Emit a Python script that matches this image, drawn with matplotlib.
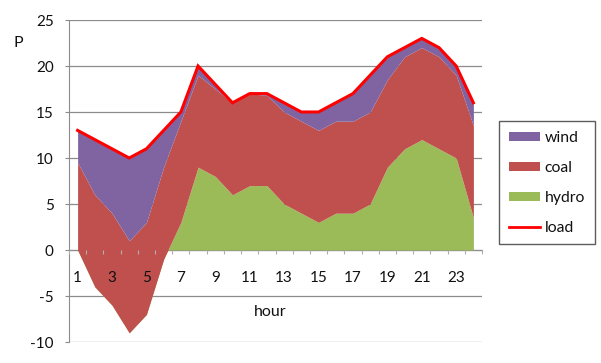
import matplotlib
matplotlib.use("Agg")
import matplotlib.pyplot as plt
from matplotlib.patches import Patch
from matplotlib.lines import Line2D
import numpy as np

hours = list(range(1, 25))
hydro = [0, -4, -6, -9, -7, -1, 3, 9, 8, 6, 7, 7, 5, 4, 3, 4, 4, 5, 9, 11, 12, 11, 10, 3.5]
coal = [9.5, 10, 10, 10, 10, 10, 11, 10, 9.5, 10, 10, 9.8, 10, 10, 10, 10, 10, 10, 9.5, 10, 10, 10, 9, 10]
wind = [3.5, 6, 7, 9, 8, 4, 1, 1, 0.5, 0, 0, 0.2, 1, 1, 2, 2, 3, 4, 2.5, 1, 1, 1, 1, 2.5]
load = [13, 12, 11, 10, 11, 13, 15, 20, 18, 16, 17, 17, 16, 15, 15, 16, 17, 19, 21, 22, 23, 22, 20, 16]
xtick_labels = ["1", "3", "5", "7", "9", "11", "13", "15", "17", "19", "21", "23"]
yticks = [-10, -5, 0, 5, 10, 15, 20, 25]

plt.rcParams['font.family'] = ['Lato', 'DejaVu Sans']
plt.rcParams['axes.unicode_minus'] = False

c_wind = '#8064A2'
c_coal = '#C0504D'
c_hydro = '#9BBB59'
c_load = '#FF0000'
grid_c = '#8C8C8C'
txt_c = '#111111'

fig = plt.figure(figsize=(6.01, 3.63), dpi=100)
ax = fig.add_axes([69/601, 1-342/363, (482-69)/601, (342-20)/363])

x = np.array(hours, dtype=float)
h = np.array(hydro)
c1 = h + np.array(coal)
c2 = c1 + np.array(wind)

ax.fill_between(x, 0, h, color=c_hydro, lw=0, zorder=3)
ax.fill_between(x, h, c1, color=c_coal, lw=0, zorder=3)
ax.fill_between(x, c1, c2, color=c_wind, lw=0, zorder=3)
ax.plot(x, load, color=c_load, lw=2.2, zorder=4, solid_joinstyle='miter')

ax.set_xlim(0.5, 24.5)
ax.set_ylim(-10, 25)
ax.set_axisbelow(True)

for sp in ['top', 'right']:
    ax.spines[sp].set_visible(False)
ax.spines['left'].set_color(grid_c)
ax.spines['bottom'].set_color(grid_c)
ax.spines['bottom'].set_position(('data', 0))

ax.set_yticks(yticks)
ax.tick_params(axis='y', direction='out', length=3, color=grid_c, labelsize=11, pad=8, labelcolor=txt_c)
ax.yaxis.grid(True, color=grid_c, lw=0.9)

ax.set_xticks(np.arange(0.5, 25, 1))
ax.set_xticklabels([])
ax.tick_params(axis='x', which='major', direction='out', length=3, color='#B0B0B0')
ax.set_xticks([int(t) for t in xtick_labels], minor=True)
ax.set_xticklabels(xtick_labels, minor=True)
ax.tick_params(axis='x', which='minor', length=0, labelsize=11, pad=15, labelcolor=txt_c)
ax.xaxis.set_zorder(5)

fig.text(270/601, 1-312/363, 'hour', ha='center', va='center', fontsize=11.5, color=txt_c)
fig.text(18/601, 1-43/363, 'P', ha='center', va='center', fontsize=11.5, color=txt_c)

handles = [Patch(facecolor=c_wind, edgecolor='none'),
           Patch(facecolor=c_coal, edgecolor='none'),
           Patch(facecolor=c_hydro, edgecolor='none'),
           Line2D([0], [0], color=c_load, lw=2)]
leg = fig.legend(handles, ['wind', 'coal', 'hydro', 'load'], loc='upper left',
                 bbox_to_anchor=(499/601, 1-121/363), borderaxespad=0,
                 fontsize=11.3, frameon=True, fancybox=False, handlelength=1.97,
                 handleheight=0.5, handletextpad=0.32, labelspacing=1.02, borderpad=0.62)
leg.get_frame().set_edgecolor('#333333')
leg.get_frame().set_linewidth(1)
for t in leg.get_texts():
    t.set_color(txt_c)

fig.savefig('out.png', dpi=100)
